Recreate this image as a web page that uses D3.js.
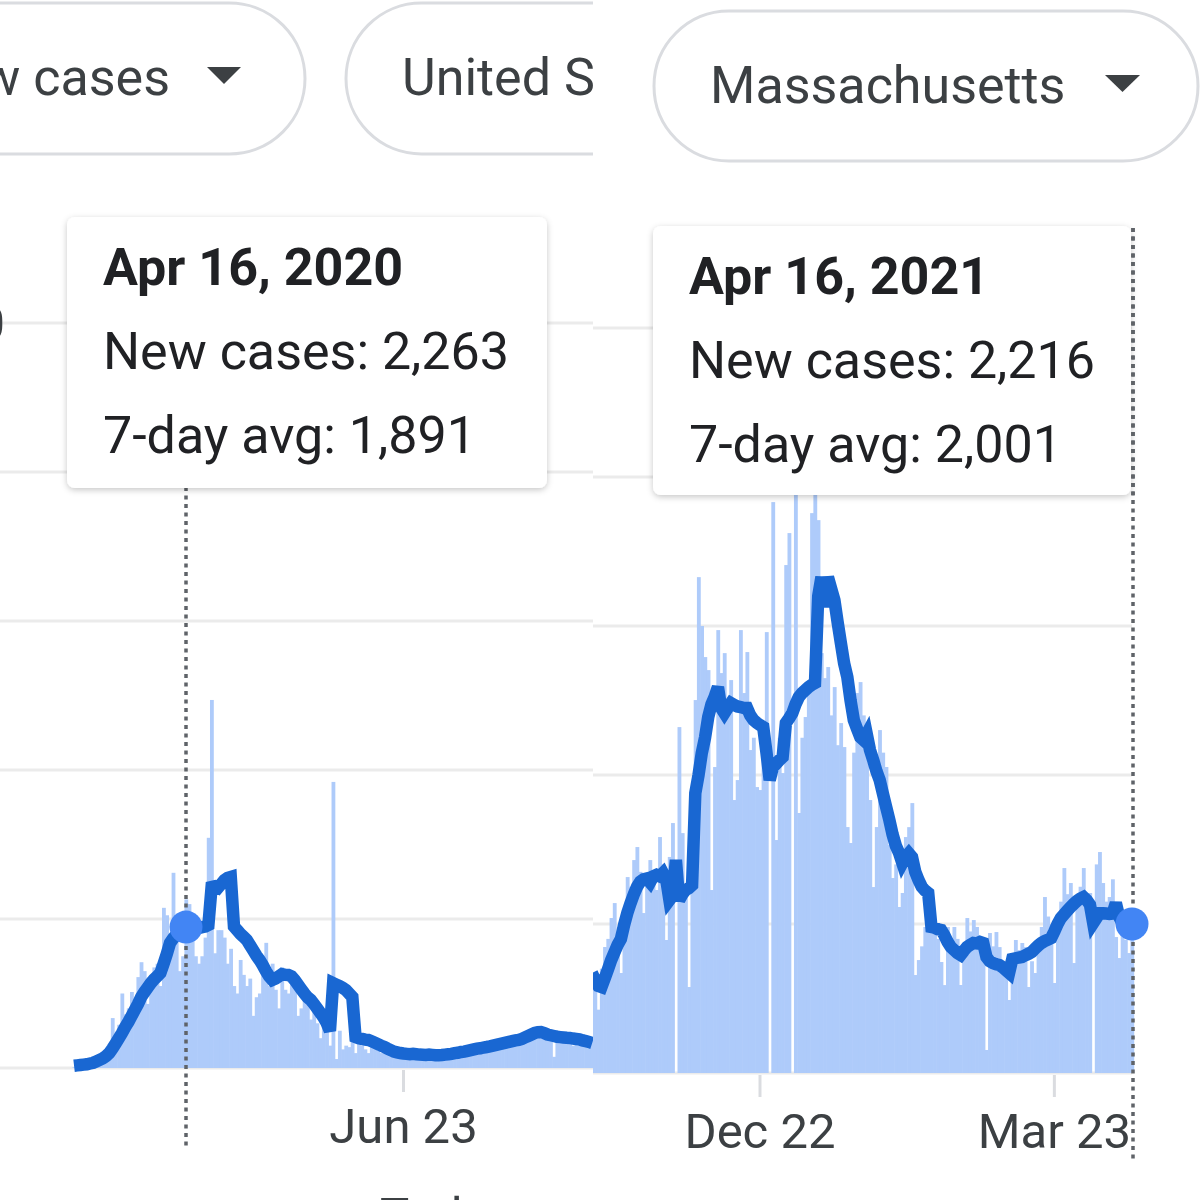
<!DOCTYPE html>
<html>
<head>
<meta charset="utf-8">
<script src="https://cdn.jsdelivr.net/npm/d3@7"></script>
<style>
  html, body { margin: 0; padding: 0; background: #fff; }
  svg { display: block; font-family: Roboto, "Noto Sans", Arial, sans-serif; }
</style>
</head>
<body>
<svg id="chart" width="1200" height="1200"></svg>
<script>
// ---------------- DATA ----------------
// Left screenshot: daily new cases + 7-day average, starting Mar 12, 2020
const leftStart = "2020-03-12";
const leftNewCases = [
  10, 20, 30, 40, 50, 60, 80, 100, 130, 160,
  190, 250, 670, 400, 580, 1000, 720, 800, 1020, 900,
  1220, 1420, 1300, 860, 1240, 1350, 1400, 1100, 2150, 2050,
  1750, 2620, 1700, 1300, 1500, 2263, 2200, 1700, 1500, 1400,
  1500, 1750, 3090, 4940, 1540, 1850, 1850, 1750, 1400, 1600,
  1100, 1000, 1450, 1250, 1100, 1200, 700, 950, 1000, 1250,
  1680, 1100, 1400, 1050, 800, 1350, 1050, 1000, 1300, 1100,
  700, 800, 1000, 900, 650, 850, 600, 400, 750, 500,
  300, 3840, 120, 500, 250, 300, 280, 420, 200, 350,
  300, 250, 200, 400, 280, 230, 200, 300, 180, 150,
  220, 160, 200, 170, 220, 120, 180, 230, 160, 190,
  150, 210, 170, 140, 180, 160, 200, 230, 180, 210,
  250, 190, 240, 260, 200, 280, 250, 300, 270, 320,
  280, 250, 350, 330, 300, 380, 340, 360, 400, 420,
  460, 380, 500, 450, 520, 470, 400, 450, 380, 420,
  150, 430, 400, 350, 420, 380, 300, 420, 360, 330,
  400, 310, 370
];
const leftAvg = [
  30, 35, 40, 45, 50, 60, 70, 90, 110, 130,
  160, 200, 260, 330, 400, 470, 550, 620, 700, 780,
  860, 953, 1020, 1080, 1140, 1190, 1230, 1275, 1400, 1530,
  1677, 1740, 1790, 1830, 1860, 1891, 1900, 1890, 1860, 1878,
  1890, 1900, 1920, 2430, 2440, 2420, 2470, 2520, 2550, 2563,
  1900, 1850, 1800, 1760, 1718, 1650, 1580, 1510, 1449, 1380,
  1300, 1230, 1181, 1200, 1230, 1260, 1250, 1248, 1230, 1180,
  1120, 1060, 1000, 950, 913, 860, 800, 740, 680, 604,
  500, 1140, 1120, 1100, 1075, 1047, 1000, 953, 416, 400,
  390, 380, 376, 360, 340, 320, 300, 282, 260, 240,
  220, 210, 201, 195, 190, 185, 190, 185, 180, 178,
  175, 180, 176, 172, 170, 174, 180, 185, 190, 200,
  205, 215, 220, 230, 240, 250, 260, 265, 275, 282,
  290, 300, 310, 320, 330, 340, 350, 360, 370, 376,
  390, 410, 430, 450, 470, 480, 483, 470, 450, 440,
  430, 420, 415, 410, 405, 403, 395, 390, 385, 370,
  360, 350, 336
];

// Right screenshot: starting Oct 31, 2020
const rightStart = "2020-10-31";
const rightNewCases = [
  1100, 1290, 850, 1400, 1691, 1800, 2080, 2281, 1745, 1342,
  2200, 2630, 2500, 2858, 3033, 2700, 2147, 2500, 2858, 2600,
  2456, 3167, 2800, 1785, 2900, 3355, 0, 4643, 3220, 2400,
  1154, 3000, 5006, 6656, 6000, 5583, 5408, 2456, 4107, 5945,
  5368, 5636, 4800, 5274, 3664, 3932, 5945, 5100, 5650, 4335,
  4500, 3838, 3798, 4500, 5918, 0, 7663, 3127, 4500, 4026,
  6818, 7247, 0, 7900, 3490, 4500, 4778, 5100, 7515, 7900,
  7421, 5636, 5300, 5449, 4800, 5180, 4400, 4697, 4375, 3301,
  3087, 4300, 5100, 5247, 4800, 4643, 3664, 2496, 3301, 4603,
  4300, 4107, 3060, 2617, 2800, 2228, 2416, 3167, 3300, 3623,
  1315, 1516, 1700, 1960, 2416, 2200, 2013, 1800, 1490, 1180,
  1960, 1700, 1960, 1800, 1181, 1700, 2080, 1900, 2053, 1960,
  1800, 1516, 309, 1879, 1700, 1892, 1690, 1500, 1400, 980,
  1600, 1785, 1650, 1745, 1690, 1154, 1500, 1342, 1700, 1960,
  2362, 2100, 2000, 1208, 1879, 2300, 2751, 2400, 2550, 1476,
  2281, 2500, 2751, 2300, 2416, 0, 2800, 2966, 2550, 2300,
  2362, 2600, 1825, 1543, 2100, 1785, 1610, 2216
];
const rightAvg = [
  1342, 1250, 1170, 1154, 1270, 1390, 1516, 1620, 1720, 1800,
  1990, 2150, 2280, 2400, 2500, 2570, 2600, 2610, 2560, 2640,
  2660, 2640, 2684, 2600, 2322, 2380, 2858, 2322, 2400, 2456,
  2480, 2520, 3757, 4000, 4294, 4500, 4778, 4950, 5050, 5180,
  4900, 4831, 4900, 4965, 4940, 4920, 4912, 4900, 4900, 4800,
  4737, 4700, 4670, 4643, 4300, 3932, 4107, 4150, 4200, 4240,
  4697, 4760, 4831, 4950, 5046, 5100, 5140, 5180, 5210, 5234,
  6400, 6656, 6254, 6656, 6500, 6348, 6050, 5771, 5500, 5314,
  5000, 4737, 4620, 4509, 4469, 4550, 4335, 4200, 4050, 3932,
  3750, 3570, 3395, 3200, 3050, 2952, 2818, 2900, 2950, 2899,
  2700, 2590, 2500, 2450, 2416, 1959, 1950, 1930, 1919, 1850,
  1760, 1691, 1650, 1610, 1584, 1640, 1691, 1720, 1745, 1740,
  1760, 1745, 1557, 1500, 1476, 1460, 1449, 1420, 1380, 1342,
  1530, 1540, 1550, 1557, 1580, 1600, 1624, 1670, 1710, 1745,
  1770, 1790, 1812, 1900, 2000, 2080, 2130, 2180, 2228, 2270,
  2310, 2340, 2362, 2320, 2260, 2013, 2080, 2147, 2145, 2140,
  2135, 2140, 2281, 2100, 2013, 2000, 1990, 2001
];

const yTickValues = [0, 2000, 4000, 6000, 8000, 10000];
const yVisibleLabel = { value: 10000, text: "10,000" };
const leftXTickDates = ["2020-06-23"];
const leftXTickLabels = ["Jun 23"];
const rightXTickDates = ["2020-12-22", "2021-03-23"];
const rightXTickLabels = ["Dec 22", "Mar 23"];

const leftTooltipLines = ["Apr 16, 2020", "New cases: 2,263", "7-day avg: 1,891"];
const rightTooltipLines = ["Apr 16, 2021", "New cases: 2,216", "7-day avg: 2,001"];
const leftHighlight = "2020-04-16";
const rightHighlight = "2021-04-16";
const leftPillLabels = ["New cases", "United States"];
const rightPillLabel = "Massachusetts";

// ---------------- DRAWING ----------------
const svg = d3.select("#chart");
const parse = d3.utcParse("%Y-%m-%d");
const C = {
  bar: "#aecbfa", line: "#1967d2", dot: "#4285f4", grid: "#ebebeb",
  text: "#3c4043", tipText: "#202124", pill: "#dadce0", rule: "#5f6368"
};

const defs = svg.append("defs");
const f = defs.append("filter").attr("id", "shadow")
  .attr("x", "-10%").attr("y", "-10%").attr("width", "120%").attr("height", "130%");
f.append("feDropShadow").attr("dx", 0).attr("dy", 2).attr("stdDeviation", 3)
  .attr("flood-color", "#000").attr("flood-opacity", 0.22);
defs.append("clipPath").attr("id", "clipL").append("rect")
  .attr("x", 0).attr("y", 0).attr("width", 593).attr("height", 1200);
defs.append("clipPath").attr("id", "clipR").append("rect")
  .attr("x", 593).attr("y", 0).attr("width", 607).attr("height", 1200);

function series(start, values) {
  const s = parse(start);
  return values.map((v, i) => ({ date: d3.utcDay.offset(s, i), v }));
}

function drawPanel(cfg) {
  const g = svg.append("g").attr("clip-path", `url(#${cfg.clip})`);
  g.append("rect").attr("x", cfg.bgX).attr("y", 0).attr("width", cfg.bgW).attr("height", 1200).attr("fill", "#fff");

  const x = d3.scaleUtc().domain(cfg.xDomain.map(parse)).range(cfg.xRange);
  const y = d3.scaleLinear().domain([0, 10000]).range(cfg.yRange);

  // gridlines
  g.append("g").selectAll("line").data(yTickValues).join("line")
    .attr("x1", cfg.gridX[0]).attr("x2", cfg.gridX[1])
    .attr("y1", d => y(d)).attr("y2", d => y(d))
    .attr("stroke", C.grid).attr("stroke-width", 3);

  // y label: only the tail of the longest one shows inside the crop
  if (cfg.showYLabel) {
    g.append("text").attr("x", 5).attr("y", y(yVisibleLabel.value)).attr("dy", "0.35em")
      .attr("text-anchor", "end").attr("font-size", 49).attr("fill", C.text)
      .text(yVisibleLabel.text);
  }

  // x ticks
  const xt = g.append("g");
  cfg.xTicks.forEach((t, i) => {
    const px = x(parse(t));
    xt.append("line").attr("x1", px).attr("x2", px)
      .attr("y1", cfg.yRange[0] + 2).attr("y2", cfg.yRange[0] + 24)
      .attr("stroke", C.pill).attr("stroke-width", 3);
    xt.append("text").attr("x", px).attr("y", cfg.yRange[0] + 75)
      .attr("text-anchor", "middle").attr("font-size", 49).attr("fill", C.text)
      .text(cfg.xTickLabels[i]);
  });

  // bars
  const bars = series(cfg.start, cfg.cases);
  const bw = x(d3.utcDay.offset(parse(cfg.start), 1)) - x(parse(cfg.start));
  g.append("g").selectAll("rect").data(bars).join("rect")
    .attr("x", d => x(d.date) - bw / 2)
    .attr("width", bw + 0.6)
    .attr("y", d => y(d.v))
    .attr("height", d => y(0) - y(d.v))
    .attr("fill", C.bar);

  // 7-day average line
  const avg = series(cfg.start, cfg.avg);
  g.append("path").datum(avg)
    .attr("d", d3.line().x(d => x(d.date)).y(d => y(d.v)))
    .attr("fill", "none").attr("stroke", C.line).attr("stroke-width", 12.5)
    .attr("stroke-linejoin", "miter").attr("stroke-miterlimit", 3);

  // highlight rule + dot
  const hx = x(parse(cfg.highlight));
  const hv = avg.find(d => +d.date === +parse(cfg.highlight)).v;
  g.append("line").attr("x1", cfg.ruleX).attr("x2", cfg.ruleX)
    .attr("y1", cfg.ruleY[0]).attr("y2", cfg.ruleY[1])
    .attr("stroke", C.rule).attr("stroke-width", 3.5).attr("stroke-dasharray", "4 4.5");
  g.append("circle").attr("cx", hx).attr("cy", y(hv)).attr("r", 16.5).attr("fill", C.dot);

  // tooltip
  const tip = g.append("g");
  tip.append("rect").attr("x", cfg.tip.x).attr("y", cfg.tip.y)
    .attr("width", cfg.tip.w).attr("height", cfg.tip.h).attr("rx", 8)
    .attr("fill", "#fff").attr("filter", "url(#shadow)");
  cfg.tipLines.forEach((t, i) => {
    tip.append("text").attr("x", cfg.tip.x + 36).attr("y", cfg.tip.y + 68 + i * 84)
      .attr("font-size", 52).attr("font-weight", i === 0 ? 700 : 400)
      .attr("fill", C.tipText).text(t);
  });
  if (cfg.ruleOverTip) {
    g.append("line").attr("x1", cfg.ruleX).attr("x2", cfg.ruleX)
      .attr("y1", cfg.ruleY[0]).attr("y2", cfg.tip.y + cfg.tip.h)
      .attr("stroke", C.rule).attr("stroke-width", 3.5).attr("stroke-dasharray", "4 4.5");
  }
  return g;
}

// Left panel
const gL = drawPanel({
  clip: "clipL", bgX: 0, bgW: 593, showYLabel: true,
  start: leftStart, cases: leftNewCases, avg: leftAvg,
  xDomain: ["2020-04-16", "2020-06-23"], xRange: [186, 403.5],
  yRange: [1068, 323], gridX: [0, 593],
  xTicks: leftXTickDates, xTickLabels: leftXTickLabels,
  highlight: leftHighlight, ruleX: 186, ruleY: [470, 1150],
  tip: { x: 67, y: 217, w: 480, h: 271 }, tipLines: leftTooltipLines, ruleOverTip: false
});
// left header pills
gL.append("rect").attr("x", -400).attr("y", 3).attr("width", 705).attr("height", 151).attr("rx", 75.5)
  .attr("fill", "none").attr("stroke", C.pill).attr("stroke-width", 3);
gL.append("rect").attr("x", 346).attr("y", 3).attr("width", 520).attr("height", 151).attr("rx", 75.5)
  .attr("fill", "none").attr("stroke", C.pill).attr("stroke-width", 3);
gL.append("text").attr("x", 170).attr("y", 95).attr("text-anchor", "end")
  .attr("font-size", 52).attr("fill", C.text).text(leftPillLabels[0]);
gL.append("path").attr("d", "M207,67 L241,67 L224,84 Z").attr("fill", C.text);
gL.append("text").attr("x", 402).attr("y", 95)
  .attr("font-size", 52).attr("fill", C.text).text(leftPillLabels[1]);
gL.append("text").attr("x", 380).attr("y", 1232)
  .attr("font-size", 49).attr("fill", C.text).text("Today");

// Right panel
const gR = drawPanel({
  clip: "clipR", bgX: 593, bgW: 607, showYLabel: false,
  start: rightStart, cases: rightNewCases, avg: rightAvg,
  xDomain: ["2020-12-22", "2021-04-16"], xRange: [760, 1132],
  yRange: [1073, 328], gridX: [593, 1132],
  xTicks: rightXTickDates, xTickLabels: rightXTickLabels,
  highlight: rightHighlight, ruleX: 1133, ruleY: [228, 1160],
  tip: { x: 653, y: 226, w: 478, h: 269 }, tipLines: rightTooltipLines, ruleOverTip: true
});
gR.append("rect").attr("x", 654).attr("y", 11).attr("width", 544).attr("height", 150).attr("rx", 75)
  .attr("fill", "none").attr("stroke", C.pill).attr("stroke-width", 3);
gR.append("text").attr("x", 710).attr("y", 103)
  .attr("font-size", 52).attr("fill", C.text).text(rightPillLabel);
gR.append("path").attr("d", "M1105,75 L1140,75 L1122.5,92 Z").attr("fill", C.text);
</script>
</body>
</html>
